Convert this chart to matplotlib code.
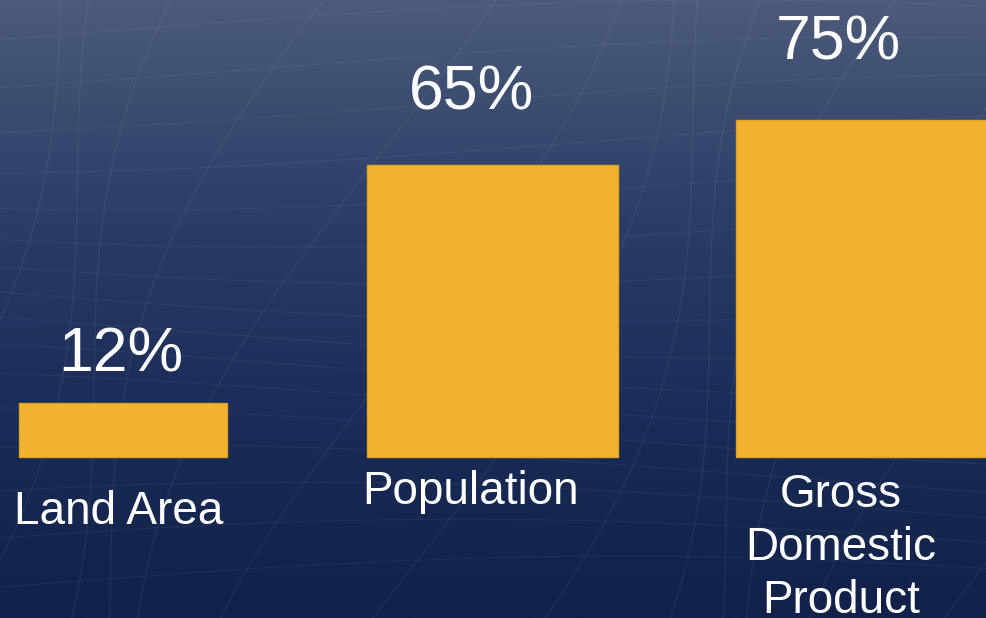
import numpy as np
import matplotlib as mpl

mpl.use('agg')

import matplotlib.pyplot as plt
from matplotlib.colors import LinearSegmentedColormap

categories = ["Land Area", "Population", "Gross\nDomestic\nProduct"]
shares = [12, 65, 75]
share_labels = ["12%", "65%", "75%"]

# per-bar look (not data)
bar_widths = [0.565, 0.68, 0.68]
pct_offsets = [(-2, 19), (-21, 42), (-23, 47)]
cat_offsets = [(-4, -33), (-21, -13), (-20, -16)]

plt.rcParams['font.family'] = ['Liberation Sans', 'DejaVu Sans']

fig = plt.figure(figsize=(9.87, 6.18), dpi=100)

# background gradient with a faint mesh
bg = fig.add_axes([0, 0, 1, 1])
cmap = LinearSegmentedColormap.from_list(
    "bg", ["#4c5b79", "#2c3f68", "#1a2c57", "#112149"])
grad = np.linspace(0, 1, 256).reshape(-1, 1)
bg.imshow(grad, aspect='auto', cmap=cmap, extent=[0, 1, 0, 1])
t = np.linspace(0, 1, 200)
for k in range(14):
    x0 = -0.2 + k * 0.1
    bg.plot(x0 + 0.25 * t + 0.08 * np.sin(3 * t + k), t,
            color='white', alpha=0.06, lw=1)
for k in range(16):
    y0 = 0.05 + k * 0.06
    bg.plot(t, y0 + 0.05 * np.sin(2.5 * t + k * 0.4),
            color='white', alpha=0.045, lw=1)
bg.set_xlim(0, 1)
bg.set_ylim(0, 1)
bg.axis('off')

ax = fig.add_axes([0, 0, 1, 1])
ax.patch.set_alpha(0)
x = np.arange(len(categories))
bars = ax.bar(x, shares, width=bar_widths, color='#f2b42e',
              edgecolor='#dca22a', linewidth=1.0)

for xi, v, lab, off in zip(x, shares, share_labels, pct_offsets):
    ax.annotate(lab, (xi, v), xytext=off, textcoords='offset pixels',
                ha='center', va='bottom', fontsize=45, color='white')

for xi, lab, off in zip(x, categories, cat_offsets):
    ax.annotate(lab, (xi, 0), xytext=off, textcoords='offset pixels',
                ha='center', va='top', fontsize=33, color='white',
                linespacing=1.26)

ax.set_xlim(-0.333, 2.341)
ax.set_ylim(-161 / 4.5, (618 - 161) / 4.5)
ax.axis('off')

fig.savefig("out.png", dpi=100)
